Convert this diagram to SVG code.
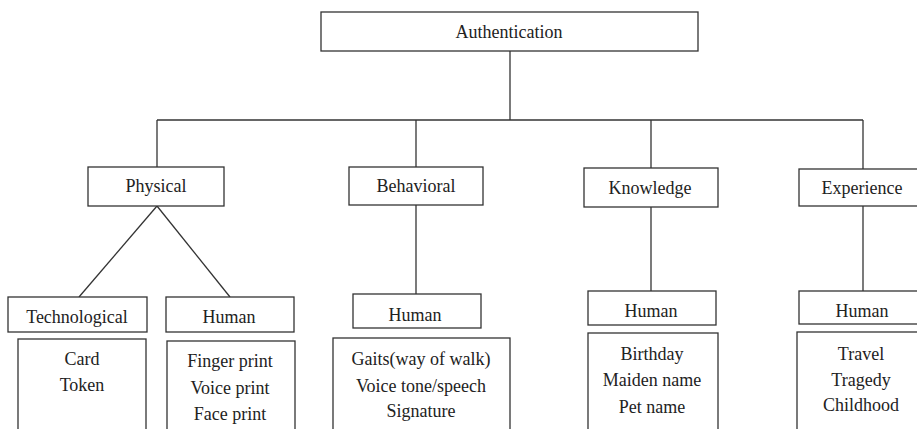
<svg xmlns="http://www.w3.org/2000/svg" width="917" height="429" viewBox="0 0 917 429">
<style>
rect{fill:#fff;stroke:#333;stroke-width:1.3}
.c line{stroke:#333;stroke-width:1.3}
text{font-family:"Liberation Serif","Times New Roman",serif;font-size:18px;fill:#222;text-anchor:middle}
</style>
<rect x="0" y="0" width="917" height="429" style="stroke:none"/>
<g class="c" id="connectors">
<line x1="510" y1="51" x2="510" y2="120"/>
<line x1="157" y1="120" x2="863" y2="120"/>
<line x1="157" y1="120" x2="157" y2="167"/>
<line x1="416" y1="120" x2="416" y2="167"/>
<line x1="651" y1="120" x2="651" y2="168"/>
<line x1="863" y1="120" x2="863" y2="169"/>
<line x1="157" y1="206" x2="79" y2="297"/>
<line x1="157" y1="206" x2="230" y2="297"/>
<line x1="416" y1="205" x2="416" y2="294"/>
<line x1="651" y1="207" x2="651" y2="291"/>
<line x1="863" y1="206" x2="863" y2="291"/>
</g>
<g id="authentication"><rect x="321" y="12" width="377" height="39"/><text x="509" y="38">Authentication</text></g>
<g id="physical"><rect x="88" y="167" width="136" height="39"/><text x="156" y="192">Physical</text></g>
<g id="behavioral"><rect x="349" y="167" width="134" height="38"/><text x="416" y="192">Behavioral</text></g>
<g id="knowledge"><rect x="584" y="168" width="134" height="39"/><text x="650" y="194">Knowledge</text></g>
<g id="experience"><rect x="799" y="169" width="130" height="37"/><text x="862" y="194">Experience</text></g>
<g id="technological"><rect x="8" y="297" width="139" height="35"/><text x="77" y="323">Technological</text></g>
<g id="phys-human"><rect x="166" y="297" width="128" height="35"/><text x="229" y="323">Human</text></g>
<g id="beh-human"><rect x="353" y="294" width="128" height="34"/><text x="415" y="321">Human</text></g>
<g id="know-human"><rect x="588" y="291" width="128" height="34"/><text x="651" y="317">Human</text></g>
<g id="exp-human"><rect x="799" y="291" width="130" height="33"/><text x="862" y="317">Human</text></g>
<g id="tech-list"><rect x="18" y="339" width="128" height="100"/><text x="82" y="365">Card</text><text x="82" y="391">Token</text></g>
<g id="phys-list"><rect x="167" y="341" width="128" height="100"/><text x="230" y="367">Finger print</text><text x="230" y="394">Voice print</text><text x="230" y="420">Face print</text></g>
<g id="beh-list"><rect x="333" y="338" width="177" height="100"/><text x="421" y="365">Gaits(way of walk)</text><text x="421" y="392">Voice tone/speech</text><text x="421" y="417">Signature</text></g>
<g id="know-list"><rect x="588" y="333" width="130" height="100"/><text x="652" y="360">Birthday</text><text x="652" y="386">Maiden name</text><text x="652" y="413">Pet name</text></g>
<g id="exp-list"><rect x="797" y="332" width="132" height="100"/><text x="861" y="360">Travel</text><text x="861" y="386">Tragedy</text><text x="861" y="411">Childhood</text></g>
</svg>
